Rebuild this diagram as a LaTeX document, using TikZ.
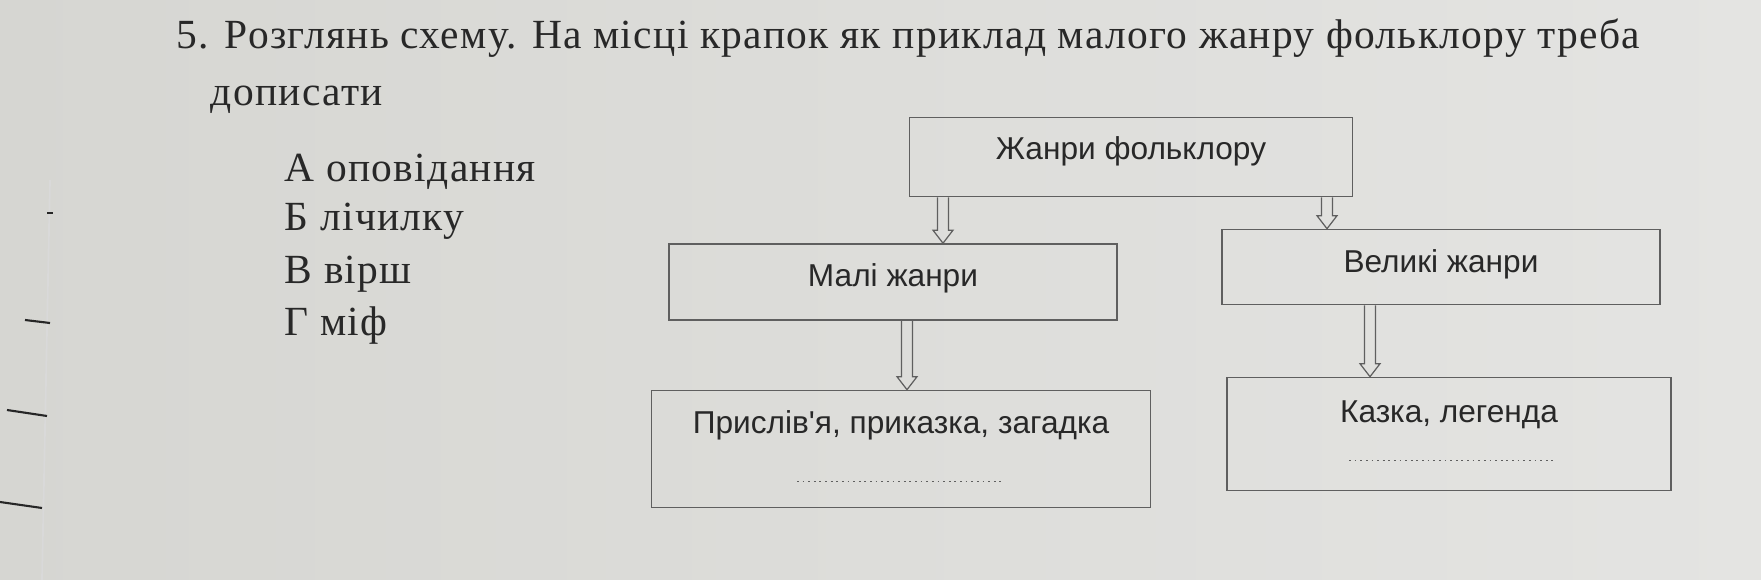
\documentclass[tikz,border=0pt]{standalone}
\usepackage{fontspec}
\setmainfont{Liberation Serif}[LetterSpace=3.2]
\newfontfamily\boxfont{Liberation Sans}
\usetikzlibrary{positioning,calc}

\definecolor{paperl}{RGB}{214,214,210}
\definecolor{paperr}{RGB}{228,228,226}
\definecolor{ink}{RGB}{40,40,40}
\definecolor{frame}{RGB}{95,95,95}

% hollow block arrow from #1 down to #2
\newcommand\blockarrow[2]{
  \draw[frame, line width=0.35pt, line join=miter] let \p1=(#1), \p2=(#2) in
    (\x1-0.55mm,\y1) -- (\x1-0.55mm,\y2+1.3mm) -- (\x1-1mm,\y2+1.3mm) -- (\x1,\y2)
    -- (\x1+1mm,\y2+1.3mm) -- (\x1+0.55mm,\y2+1.3mm) -- (\x1+0.55mm,\y1);
}

\tikzset{
  genrebox/.style={draw=frame, line width=0.45pt, font=\boxfont\fontsize{9}{11}\selectfont,
    text=ink, text height=6.5pt, inner sep=0pt},
  question/.style={anchor=west, font=\fontsize{11.8}{14}\selectfont, text=ink, inner sep=0pt},
  dotline/.style={frame, line width=0.4pt, dash pattern=on 0.5pt off 1.1pt},
  margin/.style={black!85, line width=0.6pt}
}

\begin{document}
\begin{tikzpicture}[x=0.1mm, y=-0.1mm]
  \shade[left color=paperl, right color=paperr] (0,0) rectangle (1761,580);
  \useasboundingbox (0,0) rectangle (1761,580);

  % page edge and margin marks
  \draw[black!15, line width=0.5pt] (50,180) -- (42,580);
  \foreach \xa/\xb/\ya/\yb in {47/53/213/213, 25/50/320/323, 7/47/410/416, 0/42/502/508}
    \draw[margin] (\xa,\ya) -- (\xb,\yb);

  % question and answers
  \node[question] (title) at (176,38) {5. Розглянь схему. На місці крапок як приклад малого жанру фольклору треба};
  \node[question] (title2) at (210,100) {дописати};
  \foreach \y/\ans [count=\i] in {172/А оповідання, 221/Б лічилку, 274/В вірш, 326/Г міф}
    \node[question] (ans\i) at (284,\y) {\ans};

  % scheme
  \node[genrebox, minimum width=44.3mm, minimum height=7.9mm, text depth=4.8pt] (folk) at (1131,157) {Жанри фольклору};
  \node[genrebox, minimum width=44.8mm, minimum height=7.6mm, text depth=4.2pt] (small) at (893,282) {Малі жанри};
  \node[genrebox, minimum width=43.8mm, minimum height=7.5mm, text depth=3.4pt] (big) at (1441,267) {Великі жанри};
  \node[genrebox, minimum width=49.9mm, minimum height=11.7mm, text depth=15.2pt] (smallex) at (901,449) {Прислів'я, приказка, загадка};
  \node[genrebox, minimum width=44.4mm, minimum height=11.3mm, text depth=13pt] (bigex) at (1449,434) {Казка, легенда};

  \draw[dotline] ([shift={(-104,-27)}]smallex.south) -- ([shift={(104,-27)}]smallex.south);
  \draw[dotline] ([shift={(-100,-31)}]bigex.south) -- ([shift={(108,-31)}]bigex.south);

  \blockarrow{943,0 |- folk.south}{943,0 |- small.north}
  \blockarrow{1327,0 |- folk.south}{1327,0 |- big.north}
  \blockarrow{907,0 |- small.south}{907,0 |- smallex.north}
  \blockarrow{1370,0 |- big.south}{1370,0 |- bigex.north}
\end{tikzpicture}
\end{document}
